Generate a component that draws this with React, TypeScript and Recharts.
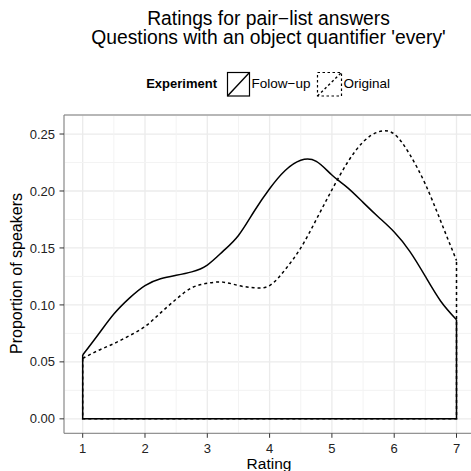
// Densidad de valoraciones (ggplot theme_bw) redibujada con Recharts.
import {
  ComposedChart,
  Line,
  XAxis,
  YAxis,
  CartesianGrid,
  ReferenceLine,
} from 'recharts';

const FONT = '"Liberation Sans", Arial, Helvetica, sans-serif';

// Datos (densidad estimada en cada valor de Rating)
const RATING = [
  1, 1.25, 1.5, 1.75, 2, 2.25, 2.5, 2.75, 3, 3.25, 3.5, 3.75, 4,
  4.25, 4.5, 4.75, 5, 5.25, 5.5, 5.75, 6, 6.25, 6.5, 6.75, 7,
];
const FOLLOW_UP = [
  0.056, 0.074, 0.092, 0.106, 0.117, 0.123, 0.126, 0.129, 0.135, 0.147, 0.161, 0.182, 0.202,
  0.218, 0.227, 0.226, 0.214, 0.203, 0.19, 0.177, 0.164, 0.147, 0.125, 0.103, 0.087,
];
const ORIGINAL = [
  0.053, 0.06, 0.066, 0.073, 0.081, 0.093, 0.105, 0.115, 0.119, 0.12, 0.117, 0.115, 0.117,
  0.131, 0.15, 0.175, 0.201, 0.225, 0.243, 0.252, 0.25, 0.232, 0.206, 0.173, 0.139,
];

const X_TICKS = [1, 2, 3, 4, 5, 6, 7];
const Y_TICKS = [0, 0.05, 0.1, 0.15, 0.2, 0.25];
const X_MINOR = [1.5, 2.5, 3.5, 4.5, 5.5, 6.5];
const Y_MINOR = [0.025, 0.075, 0.125, 0.175, 0.225];
const X_DOMAIN: [number, number] = [0.7, 7.3];
const Y_DOMAIN: [number, number] = [-0.0127, 0.2667];

const toRows = (values: number[]) => RATING.map((x, i) => ({ x, y: values[i] }));

// contorno del polígono: verticales en los extremos y base en 0
const closure = (values: number[]) => [
  { x: RATING[0], y: values[0] },
  { x: RATING[0], y: 0 },
  { x: RATING[RATING.length - 1], y: 0 },
  { x: RATING[RATING.length - 1], y: values[values.length - 1] },
];

const DASH = '3 3';

function Overlay() {
  return (
    <svg
      width={471}
      height={471}
      style={{ position: 'absolute', left: 0, top: 0, pointerEvents: 'none' }}
      fontFamily={FONT}
    >
      <text x={268.5} y={25} textAnchor="middle" fontSize={19.3} fill="#000">
        Ratings for pair−list answers
      </text>
      <text x={268.5} y={44} textAnchor="middle" fontSize={19.3} fill="#000">
        Questions with an object quantifier 'every'
      </text>

      <text x={217} y={88} textAnchor="end" fontSize={13} fontWeight="bold" fill="#000">
        Experiment
      </text>
      <rect x={227.5} y={72.5} width={22} height={23.5} fill="#fff" stroke="#000" strokeWidth={1.2} />
      <line x1={227.5} y1={96} x2={249.5} y2={72.5} stroke="#000" strokeWidth={1.4} />
      <text x={251.5} y={88} fontSize={13.5} fill="#000">
        Folow−up
      </text>
      <rect
        x={317.5}
        y={72.5}
        width={24}
        height={23.5}
        fill="#fff"
        stroke="#000"
        strokeWidth={1.2}
        strokeDasharray="2.5 2.5"
      />
      <line x1={317.5} y1={96} x2={341.5} y2={72.5} stroke="#000" strokeWidth={1.4} strokeDasharray="2.5 2.5" />
      <text x={343.5} y={88} fontSize={13.5} fill="#000">
        Original
      </text>

      <text
        x={21.5}
        y={273.5}
        textAnchor="middle"
        fontSize={16}
        fill="#000"
        transform="rotate(-90 21.5 273.5)"
      >
        Proportion of speakers
      </text>
      <text x={269} y={468.5} textAnchor="middle" fontSize={15.5} fill="#000">
        Rating
      </text>
    </svg>
  );
}

export default function App() {
  const tickStyle = { fontSize: 13, fill: '#222', fontFamily: FONT };
  return (
    <div
      style={{
        position: 'absolute',
        left: 0,
        top: 0,
        width: 471,
        height: 471,
        overflow: 'hidden',
        background: '#fff',
      }}
    >
      <ComposedChart width={480} height={471} margin={{ top: 115, right: 4.8, bottom: 0, left: 0 }}>
        <CartesianGrid stroke="#ebebeb" strokeWidth={1.3} />
        {X_MINOR.map((v) => (
          <ReferenceLine key={`mx${v}`} x={v} stroke="#f3f3f3" strokeWidth={1} />
        ))}
        {Y_MINOR.map((v) => (
          <ReferenceLine key={`my${v}`} y={v} stroke="#f3f3f3" strokeWidth={1} />
        ))}
        <XAxis
          type="number"
          dataKey="x"
          domain={X_DOMAIN}
          ticks={X_TICKS}
          allowDataOverflow
          height={37.7}
          stroke="#7f7f7f"
          tickLine={{ stroke: '#333' }}
          tickSize={4.5}
          tickMargin={5.5}
          tick={tickStyle}
        />
        <YAxis
          type="number"
          domain={Y_DOMAIN}
          ticks={Y_TICKS}
          allowDataOverflow
          width={64}
          stroke="#7f7f7f"
          tickLine={{ stroke: '#333' }}
          tickSize={4.5}
          tickMargin={4.5}
          tick={tickStyle}
          tickFormatter={(v: number) => v.toFixed(2)}
        />
        <ReferenceLine y={Y_DOMAIN[1]} stroke="#7f7f7f" strokeWidth={1.2} />
        <ReferenceLine x={X_DOMAIN[1]} stroke="#7f7f7f" strokeWidth={1.2} />

        <Line
          data={closure(FOLLOW_UP)}
          dataKey="y"
          type="linear"
          stroke="#000"
          strokeWidth={1.5}
          dot={false}
          activeDot={false}
          isAnimationActive={false}
        />
        <Line
          data={toRows(FOLLOW_UP)}
          dataKey="y"
          type="natural"
          stroke="#000"
          strokeWidth={1.5}
          dot={false}
          activeDot={false}
          isAnimationActive={false}
        />
        <Line
          data={closure(ORIGINAL)}
          dataKey="y"
          type="linear"
          stroke="#000"
          strokeWidth={1.5}
          strokeDasharray={DASH}
          dot={false}
          activeDot={false}
          isAnimationActive={false}
        />
        <Line
          data={toRows(ORIGINAL)}
          dataKey="y"
          type="natural"
          stroke="#000"
          strokeWidth={1.5}
          strokeDasharray={DASH}
          dot={false}
          activeDot={false}
          isAnimationActive={false}
        />
      </ComposedChart>
      <Overlay />
    </div>
  );
}
